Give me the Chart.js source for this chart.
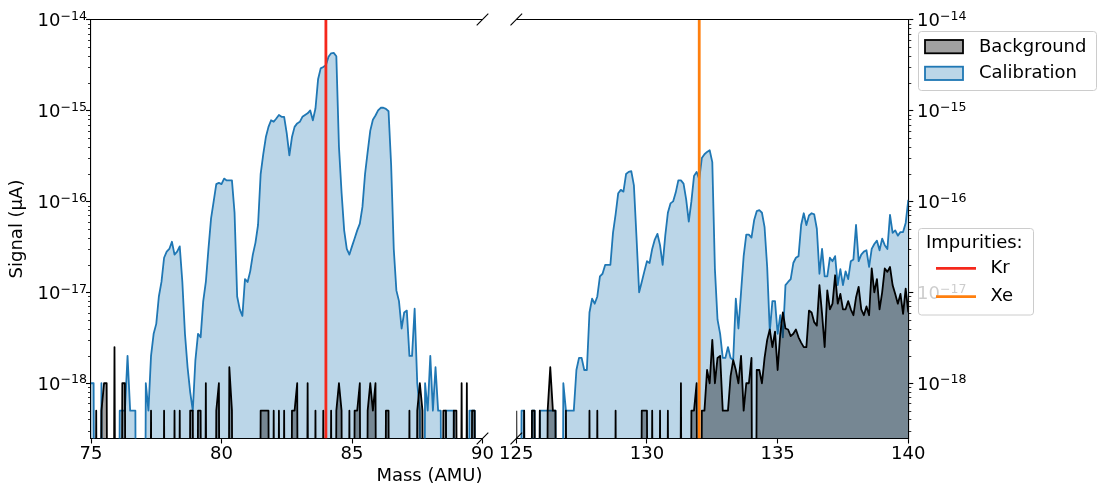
<!DOCTYPE html>
<html>
<head>
<meta charset="utf-8">
<script src="https://cdn.jsdelivr.net/npm/chart.js@4.4.1/dist/chart.umd.min.js"></script>
<style>
  html, body { margin: 0; padding: 0; background: #fff; }
  #wrap { position: relative; width: 1103px; height: 489px; overflow: hidden; }
  canvas { position: absolute; top: 0; }
  #left { left: 0; }
  #right { left: 490px; }
</style>
</head>
<body>
<div id="wrap">
  <canvas id="left" width="500" height="489"></canvas>
  <canvas id="right" width="613" height="489"></canvas>
</div>
<script>
// Signal, in units of 1e-18 µA, one sample per 0.1 AMU.
// 0 = nothing measured (falls off the bottom of the log axis).
const UNIT = 1e-18;
const STEP = 0.1;
const leftStart = 75;
const rightStart = 125;

// 75.0 .. 90.0 AMU
const calLeft = [
  1, 1, 0, 0, 1, 0, 0, 0, 0, 0,
  0, 0.5, 0.5, 0.5, 2, 0.5, 0.5, 0.5, 0, 0,
  0, 1, 0.5, 2, 3.5, 4.5, 9, 13, 24, 28,
  30, 36, 26, 28, 32, 13, 3.5, 1.5, 0.8, 0.5,
  1.8, 3.5, 3.2, 8, 13, 30, 65, 100, 155, 160,
  155, 178, 170, 170, 170, 75, 9, 6.5, 5.5, 14,
  13, 17, 26, 35, 55, 200, 330, 510, 660, 780,
  750, 815, 890, 850, 850, 560, 320, 510, 660, 720,
  750, 850, 890, 930, 1000, 780, 1050, 2200, 2900, 3000,
  3150, 3900, 4250, 4300, 3950, 400, 125, 48, 30, 26,
  32, 39, 48, 57, 87, 200, 350, 600, 790, 880,
  1000, 1070, 1070, 1040, 980, 250, 30, 10.5, 8, 4,
  6, 6.3, 2, 2, 6.6, 1, 0.5, 0, 1, 0.5,
  2, 0.5, 1.5, 0.5, 0.5, 0, 0.5, 0.5, 0.5, 0.5,
  0, 0, 0, 0, 0, 0.5, 0.5, 0.5, 0, 0,
  0
];
const bgLeft = [
  0, 0, 0.5, 0, 0.5, 1, 1, 0, 0, 2.5,
  0, 0, 1, 1, 0, 0, 0, 0, 0, 0,
  0, 0, 0, 0.5, 0, 0, 0, 0, 0.5, 0,
  0, 0, 0.5, 0, 0.5, 0, 0, 0, 0.5, 0.5,
  0, 0.5, 0.5, 0, 1, 0, 0, 0, 0.5, 1,
  0, 0, 0, 1.5, 0.5, 0, 0, 0, 0, 0,
  0, 0, 0, 0, 0, 0.5, 0.5, 0.5, 0.5, 0,
  0.5, 0, 0.5, 0, 0.5, 0, 0, 0.5, 0.5, 1,
  0, 0, 0, 1, 0, 0, 0.5, 0, 0, 0.5,
  0, 0, 0.5, 0, 0.5, 1, 0.5, 0, 0, 0.5,
  0, 0.5, 0.5, 1, 0, 0, 0.5, 1, 0.5, 1,
  0, 0, 0, 0.5, 0.5, 0, 0, 0, 0, 0,
  0, 0, 0.5, 0, 0, 0.5, 1, 0.5, 0, 0,
  0, 0, 0, 0, 0, 0.5, 0.5, 0, 0, 0.5,
  0.5, 0, 1, 0, 1, 0, 0.5, 0.5, 0, 0,
  0
];

// 125.0 .. 140.0 AMU
const calRight = [
  0, 0, 0.5, 0.5, 0, 0, 0.5, 0.5, 0, 0.5,
  0.5, 0.5, 0.5, 0.5, 0.5, 0.5, 0, 0, 1, 0.5,
  0.5, 0.5, 0.5, 1.4, 1.9, 1.9, 1.4, 1.4, 6, 8.5,
  7.5, 9, 15, 16, 20, 20, 20, 45, 72, 123,
  134, 128, 200, 211, 215, 150, 40, 10, 13, 17,
  22, 21, 30, 38, 44, 33, 20, 42, 75, 95,
  100, 125, 170, 170, 157, 105, 60, 100, 190, 211,
  175, 300, 330, 350, 365, 270, 18, 5, 3.5, 1.9,
  1.9, 2.5, 1.9, 1.8, 8.5, 4, 10, 25, 43, 43,
  40, 62, 78, 80, 75, 52, 19, 3.7, 8, 8,
  3.5, 5.6, 3.2, 12, 13, 14, 21, 24, 25, 55,
  74, 55, 70, 74, 72, 50, 16, 30, 15, 15,
  24, 22, 25, 12, 18, 12, 17, 14, 22, 23,
  55, 22, 26, 28, 29, 19, 30, 34, 37, 29,
  39, 33, 30, 71, 45, 48, 42, 46, 46, 58,
  104
];
const bgRight = [
  0.5, 0, 0, 0.5, 0, 0, 0.5, 0.5, 0, 0.5,
  0, 0, 0.5, 1.5, 0.5, 0.5, 0, 0, 0, 0.5,
  0, 0, 0, 0, 0, 0, 0, 0, 0.5, 0,
  0, 0.5, 0, 0, 0, 0, 0, 0, 0.5, 0,
  0, 0, 0, 0, 0, 0, 0, 0, 0.5, 0.5,
  0.5, 0, 0.5, 0, 0, 0.5, 0, 0, 0.5, 0,
  0, 0, 0, 1, 0, 0, 0, 0.5, 0.5, 1,
  0, 0.5, 0.5, 1.4, 1, 3, 1, 1.9, 2, 0.5,
  0.5, 0.5, 1.2, 1.8, 1.4, 1, 2, 0.5, 1, 1,
  1.9, 0, 1.4, 1.4, 1, 1.9, 3, 3.9, 2.5, 3.7,
  1.4, 3.5, 6, 4, 3.9, 3.3, 3.5, 3.9, 3.2, 2.8,
  2.5, 2.5, 6.3, 6, 4.7, 4.3, 12, 5.8, 2.5, 10.5,
  6.5, 7.5, 15.4, 7.5, 9.6, 6.5, 6.5, 8, 6.5, 5.6,
  8.8, 11.5, 6.5, 5.6, 7, 5.6, 18.3, 10, 14, 6.5,
  10, 18.3, 16.8, 19, 12, 9.6, 7.5, 9.6, 5.8, 11,
  6
];

const seriesNames = ['Background', 'Calibration'];
const impurityNames = ['Kr', 'Xe'];
const impurityMass = [84, 132];

const yMin = 2.47e-19, yMax = 1e-14;
const yTicks = [1e-18, 1e-17, 1e-16, 1e-15, 1e-14];
const yTickExp = ['\u221218', '\u221217', '\u221216', '\u221215', '\u221214'];

const FONT = '"DejaVu Sans", sans-serif';
const FLOOR = 1e-25; // where zero readings are drawn (below the axis)
const BLUE = '#1f77b4';
const KR_COLOR = '#f5281c';
const XE_COLOR = '#ff7f0e';

function toPoints(values, start) {
  return values.map((v, i) => ({
    x: Math.round((start + i * STEP) * 10) / 10,
    y: v > 0 ? v * UNIT : FLOOR
  }));
}

function makeDatasets(cal, bg, start, mass, color) {
  return [
    {
      label: seriesNames[1], data: toPoints(cal, start),
      borderColor: BLUE, backgroundColor: 'rgba(31,119,180,0.3)',
      borderWidth: 1.8, fill: 'start', order: 3
    },
    {
      label: seriesNames[0], data: toPoints(bg, start),
      borderColor: '#000', backgroundColor: 'rgba(0,0,0,0.37)',
      borderWidth: 1.8, fill: 'start', order: 2
    },
    {
      label: 'line', data: [{ x: mass, y: yMin }, { x: mass, y: yMax }],
      borderColor: color, borderWidth: 2.8, fill: false, order: 1
    }
  ];
}

// minor log ticks, top spine, break marks and 10^n tick labels
const axisDecor = {
  id: 'axisDecor',
  afterDraw(chart, args, opts) {
    const { ctx, chartArea: a } = chart;
    const ys = chart.scales.y;
    const left = opts.side === 'left';
    ctx.save();
    ctx.strokeStyle = '#000';

    ctx.lineWidth = 0.8;
    const edge = left ? a.left : a.right;
    const dir = left ? -1 : 1;
    for (let e = -19; e <= -15; e++) {
      for (let k = 2; k <= 9; k++) {
        const v = k * Math.pow(10, e);
        if (v < yMin || v > yMax) continue;
        const py = Math.round(ys.getPixelForValue(v)) + 0.5;
        ctx.beginPath();
        ctx.moveTo(edge, py);
        ctx.lineTo(edge + dir * 3, py);
        ctx.stroke();
      }
    }

    ctx.lineWidth = 1.1;
    ctx.beginPath();
    ctx.moveTo(a.left, a.top);
    ctx.lineTo(a.right, a.top);
    ctx.stroke();

    const bx = left ? a.right : a.left;
    [a.top, a.bottom].forEach(by => {
      ctx.beginPath();
      ctx.moveTo(bx - 5.8, by + 5.8);
      ctx.lineTo(bx + 5.8, by - 5.8);
      ctx.stroke();
    });

    ctx.fillStyle = '#000';
    ctx.textBaseline = 'alphabetic';
    ys.ticks.forEach((t, i) => {
      const base = ys.getPixelForValue(t.value) + 6.5;
      ctx.font = '18px ' + FONT;
      const wBase = ctx.measureText('10').width;
      ctx.font = '12.6px ' + FONT;
      const wExp = ctx.measureText(yTickExp[i]).width;
      const x0 = left ? opts.labelX - wBase - wExp : opts.labelX;
      ctx.font = '18px ' + FONT;
      ctx.fillText('10', x0, base);
      ctx.font = '12.6px ' + FONT;
      ctx.fillText(yTickExp[i], x0 + wBase, base - 6.3);
    });
    ctx.restore();
  }
};

// the two legend boxes to the right of the plot
const legends = {
  id: 'legends',
  afterDraw(chart, args, opts) {
    const ctx = chart.ctx;
    const ox = opts.offsetX;
    ctx.save();
    ctx.font = '18px ' + FONT;
    ctx.textBaseline = 'middle';
    ctx.fillStyle = '#000';

    const frame = (x, y, w, h) => {
      ctx.beginPath();
      ctx.roundRect(x - ox, y, w, h, 3);
      ctx.fillStyle = 'rgba(255,255,255,0.8)';
      ctx.fill();
      ctx.strokeStyle = '#cccccc';
      ctx.lineWidth = 1;
      ctx.stroke();
      ctx.fillStyle = '#000';
    };

    frame(918.5, 31.5, 178, 59);
    const patches = [
      { fill: 'rgba(0,0,0,0.37)', edge: '#000', y: 40 },
      { fill: 'rgba(31,119,180,0.3)', edge: BLUE, y: 66.7 }
    ];
    patches.forEach((p, i) => {
      ctx.fillStyle = p.fill;
      ctx.fillRect(925 - ox, p.y, 38, 13.3);
      ctx.strokeStyle = p.edge;
      ctx.lineWidth = 1.8;
      ctx.strokeRect(925 - ox, p.y, 38, 13.3);
      ctx.fillStyle = '#000';
      ctx.fillText(seriesNames[i], 979 - ox, p.y + 7);
    });

    frame(918.5, 228.5, 115, 86.5);
    ctx.fillText('Impurities:', 926 - ox, 243.5);
    [KR_COLOR, XE_COLOR].forEach((c, i) => {
      const y = 268.3 + i * 28.4;
      ctx.strokeStyle = c;
      ctx.lineWidth = 2.8;
      ctx.beginPath();
      ctx.moveTo(936 - ox, y);
      ctx.lineTo(976 - ox, y);
      ctx.stroke();
      ctx.fillStyle = '#000';
      ctx.fillText(impurityNames[i], 990.5 - ox, y);
    });
    ctx.restore();
  }
};

function xAxis(min, max, withTitle) {
  return {
    type: 'linear', min, max,
    ticks: { stepSize: 5, color: '#000', font: { family: FONT, size: 18 }, padding: 0, maxRotation: 0, autoSkip: false },
    grid: { drawOnChartArea: false, drawTicks: true, tickLength: 5, tickWidth: 1.1, tickColor: '#000' },
    border: { display: true, color: '#000', width: 1.1 },
    title: {
      display: withTitle, text: 'Mass (AMU)', align: 'end', color: '#000',
      font: { family: FONT, size: 18 }, padding: { top: 0, bottom: 2 }
    },
    afterFit: s => { s.height = 50.5; }
  };
}

function yAxis(position, width, withTitle) {
  return {
    type: 'logarithmic', position, min: yMin, max: yMax,
    afterBuildTicks: s => { s.ticks = yTicks.map(v => ({ value: v })); },
    ticks: { display: false },
    grid: { drawOnChartArea: false, drawTicks: true, tickLength: 5, tickWidth: 1.1, tickColor: '#000' },
    border: { display: true, color: '#000', width: 1.1 },
    title: {
      display: withTitle, text: 'Signal (\u00b5A)', color: '#000',
      font: { family: FONT, size: 18 }, padding: { top: 6.7, bottom: 0 }
    },
    afterFit: s => { s.width = width; }
  };
}

const common = {
  responsive: false,
  animation: false,
  events: [],
  elements: { point: { radius: 0 }, line: { tension: 0, borderJoinStyle: 'round' } },
  plugins: { legend: { display: false }, tooltip: { enabled: false } }
};

new Chart(document.getElementById('left'), {
  type: 'line',
  data: { datasets: makeDatasets(calLeft, bgLeft, leftStart, impurityMass[0], KR_COLOR) },
  options: {
    ...common,
    layout: { padding: { left: 0, right: 17.5, top: 19.5, bottom: 0 } },
    scales: { x: xAxis(75, 90, true), y: yAxis('left', 91, true) },
    plugins: { ...common.plugins, axisDecor: { side: 'left', labelX: 87 } }
  },
  plugins: [axisDecor]
});

new Chart(document.getElementById('right'), {
  type: 'line',
  data: { datasets: makeDatasets(calRight, bgRight, rightStart, impurityMass[1], XE_COLOR) },
  options: {
    ...common,
    layout: { padding: { left: 26.3, right: 0, top: 19.5, bottom: 0 } },
    scales: { x: xAxis(125, 140, false), y: yAxis('right', 194.7, false) },
    plugins: {
      ...common.plugins,
      axisDecor: { side: 'right', labelX: 427 },
      legends: { offsetX: 490 }
    }
  },
  plugins: [axisDecor, legends]
});
</script>
</body>
</html>
